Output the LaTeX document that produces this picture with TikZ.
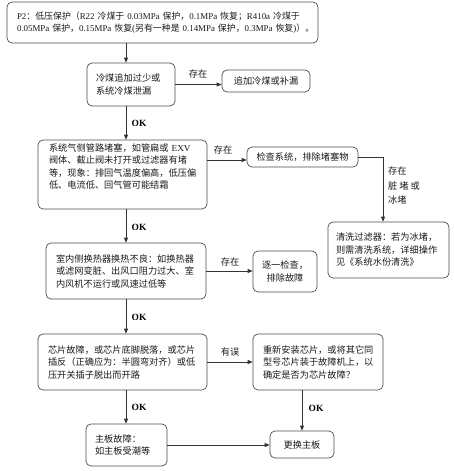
\documentclass[tikz,border=0pt]{standalone}
\usepackage{fontspec}
\setmainfont{Noto Sans CJK SC}
\newfontfamily\tnr{Liberation Serif}
\newcommand\lat[1]{{\tnr #1}}
\usetikzlibrary{arrows.meta}
\begin{document}
\begin{tikzpicture}[x=1pt,y=-1pt,
 box/.style={draw=black!70, line width=0.7pt, rounded corners=5pt, inner sep=0pt,
   font=\fontsize{9.2}{12.5}\selectfont, text=black!90},
 ln/.style={draw=black!80, line width=0.7pt, -{Triangle[length=5pt,width=4pt]}},
 lbl/.style={font=\fontsize{9.2}{12}\selectfont, inner sep=0pt, text=black!90},
 ok/.style={font=\fontsize{9.5}{12}\selectfont\tnr\bfseries, inner sep=0pt}]
\useasboundingbox (0,0) rectangle (453,471);
\coordinate (xA) at (126,0);
\coordinate (xB) at (383,0);
\coordinate (y160) at (0,160);

\node[box, minimum width=311pt, minimum height=41pt, text width=291pt, align=left,
      font=\fontsize{8.9}{12.5}\selectfont] (b1) at (162.5,22.5)
 {\lat{P2}：低压保护（\lat{R22}~冷煤于~\lat{0.03MPa}~保护，\lat{0.1MPa}~恢复；\lat{R410a}~冷煤于\\
  \lat{0.05MPa}~保护，\lat{0.15MPa}~恢复\lat{(}另有一种是~\lat{0.14MPa}~保护，\lat{0.3MPa}~恢复\lat{)}）。};
\node[box, minimum width=88pt, minimum height=43pt, text width=70pt, align=left] (b2) at (131,84.5)
 {冷煤追加过少或\\系统冷煤泄漏};
\node[box, minimum width=88pt, minimum height=22pt, align=center] (b3) at (266,81)
 {追加冷煤或补漏};
\node[box, minimum width=169pt, minimum height=69pt, text width=147pt, align=left] (b4) at (122.5,174.5)
 {系统气侧管路堵塞，如管扁或~\lat{EXV}\\阀体、截止阀未打开或过滤器有堵\\等，现象：排回气温度偏高，低压偏\\低、电流低、回气管可能结霜\\[4.5pt]\mbox{}};
\node[box, minimum width=111pt, minimum height=20pt, align=center] (b5) at (302.5,157)
 {检查系统，排除堵塞物};
\node[box, minimum width=121pt, minimum height=56pt, text width=105pt, align=left] (b6) at (388.5,250)
 {清洗过滤器：若为冰堵，\\则需清洗系统，详细操作\\见《系统水份清洗》};
\node[box, minimum width=160pt, minimum height=56pt, text width=140pt, align=left] (b7) at (126,271)
 {室内侧换热器换热不良：如换热器\\或滤网变脏、出风口阻力过大、室\\内风机不运行或风速过低等};
\node[box, minimum width=64pt, minimum height=41pt, align=center] (b8) at (285,271.5)
 {逐一检查，\\排除故障};
\node[box, minimum width=169pt, minimum height=56pt, text width=149pt, align=left] (b9) at (122.5,362)
 {芯片故障，或芯片底脚脱落，或芯片\\插反（正确应为：半圆弯对齐）或低\\压开关插子脱出而开路};
\node[box, minimum width=130pt, minimum height=56pt, text width=110pt, align=left] (b10) at (318,362)
 {重新安装芯片，或将其它同\\型号芯片装于故障机上，以\\确定是否为芯片故障？};
\node[box, minimum width=81pt, minimum height=42pt, text width=63pt, align=left] (b11) at (126.5,445)
 {主板故障：\\如主板受潮等};
\node[box, minimum width=64pt, minimum height=27pt, align=center] (b12) at (302,444.5)
 {更换主板};

\draw[ln] (b1.south -| xA) -- (b2.north -| xA);
\draw[ln] (b2.east) -- (b2.east -| b3.west);
\draw[ln] (b2.south -| xA) -- (b4.north -| xA);
\draw[ln] (b4.east |- y160) -- (b5.west |- y160);
\draw[ln] (b5.east) -| (b6.north -| xB);
\draw[ln] (b4.south -| b7.north) -- (b7.north);
\draw[ln] (b7.east) -- (b7.east -| b8.west);
\draw[ln] (b7.south -| b7.north) -- (b9.north -| b7.north);
\draw[ln] (b9.east) -- (b10.west);
\draw[ln] (b9.south -| b7.north) -- (b11.north -| b7.north);
\draw[ln] (b10.south -| b12.north) -- (b12.north);
\draw[ln] (b11.east) -- (b11.east -| b12.west);

\node[lbl] (l1) at (198,74) {存在};
\node[ok] (o1) at (139,123) {OK};
\node[lbl] (l2) at (223,150) {存在};
\node[lbl, anchor=west, align=left, font=\fontsize{9.2}{14.5}\selectfont] (l3) at (388,186) {存在\\脏~堵~或\\冰堵};
\node[ok] (o2) at (139,227) {OK};
\node[lbl] (l4) at (230,262) {存在};
\node[ok] (o3) at (139,317) {OK};
\node[lbl] (l5) at (230,352) {有误};
\node[ok] (o4) at (139,407) {OK};
\node[ok] (o5) at (316,408) {OK};
\end{tikzpicture}
\end{document}
